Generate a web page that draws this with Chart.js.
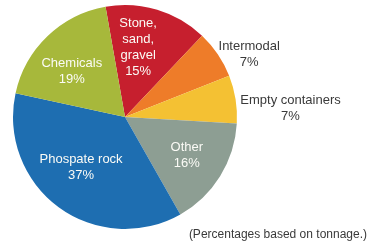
<!DOCTYPE html>
<html>
<head>
<meta charset="utf-8">
<script src="https://cdn.jsdelivr.net/npm/chart.js@4/dist/chart.umd.min.js"></script>
<style>
html,body{margin:0;padding:0;background:#fff;}
#wrap{position:relative;width:368px;height:241px;}
canvas{display:block;}
</style>
</head>
<body>
<div id="wrap"><canvas id="c" width="368" height="241"></canvas></div>
<script>
const categories = [["Stone,", "sand,", "gravel"], ["Intermodal"], ["Empty containers"], ["Other"], ["Phospate rock"], ["Chemicals"]];
const values = [15, 7, 7, 16, 37, 19];
const colors = ["#c61f2e", "#ee7c29", "#f4c133", "#8d9e93", "#1e6eb1", "#a7b83b"];
const footnote = "(Percentages based on tonnage.)";

// label placement: angle adjustment (deg) and radius factor, and inside/outside
const labelPlace = [
  {da: -6, f: 0.63, inside: true},
  {da: 7.5, f: 1.24, inside: false},
  {da: 6, f: 1.48, inside: false},
  {da: 0, f: 0.65, inside: true},
  {da: 4.5, f: 0.60, inside: true},
  {da: -5.6, f: 0.625, inside: true}
];

const labelPlugin = {
  id: 'sliceLabels',
  afterDatasetsDraw(chart) {
    const ctx = chart.ctx;
    const meta = chart.getDatasetMeta(0);
    ctx.save();
    ctx.font = '13px "Liberation Sans", Arial, sans-serif';
    ctx.textAlign = 'center';
    ctx.textBaseline = 'middle';
    const lh = 16;
    meta.data.forEach((arc, i) => {
      const p = arc.getProps(['x','y','startAngle','endAngle','outerRadius'], true);
      const pl = labelPlace[i];
      const mid = (p.startAngle + p.endAngle) / 2 + pl.da * Math.PI / 180;
      const d = p.outerRadius * pl.f;
      const cx = p.x + Math.cos(mid) * d;
      const cy = p.y + Math.sin(mid) * d;
      const lines = categories[i].concat([values[i] + '%']);
      const y0 = cy - (lines.length - 1) * lh / 2;
      ctx.fillStyle = pl.inside ? '#fbfbf6' : '#3a3a3a';
      lines.forEach((t, k) => ctx.fillText(t, cx, y0 + k * lh));
    });
    ctx.font = '12px "Liberation Sans", Arial, sans-serif';
    ctx.textAlign = 'right';
    ctx.fillStyle = '#3a3a3a';
    ctx.fillText(footnote, 367, 235);
    ctx.restore();
  }
};

new Chart(document.getElementById('c'), {
  type: 'pie',
  data: {
    labels: categories.map(c => c.join(' ')),
    datasets: [{
      data: values,
      backgroundColor: colors,
      borderWidth: 0
    }]
  },
  options: {
    responsive: false,
    animation: false,
    rotation: -10,
    layout: {padding: {left: 13, right: 131, top: 5, bottom: 12}},
    plugins: {legend: {display: false}, tooltip: {enabled: false}}
  },
  plugins: [labelPlugin]
});
</script>
</body>
</html>
